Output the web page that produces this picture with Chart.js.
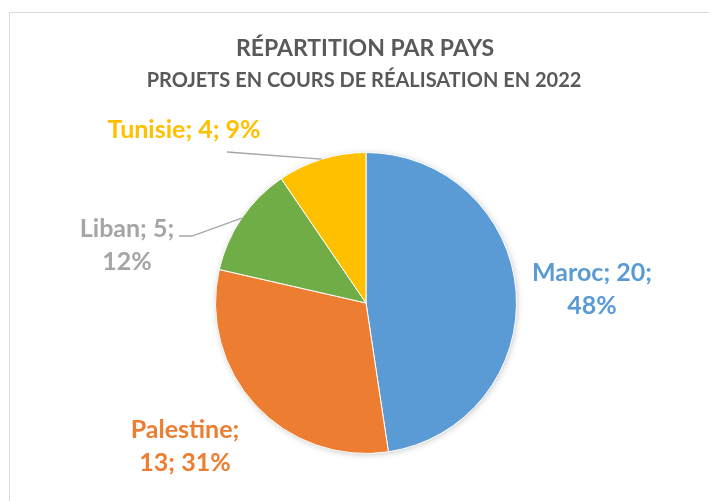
<!DOCTYPE html>
<html>
<head>
<meta charset="utf-8">
<script src="https://cdn.jsdelivr.net/npm/chart.js@4"></script>
<style>
  body { margin: 0; background: #fff; overflow: hidden; }
  #frame { position: absolute; left: 9px; top: 12px; width: 800px; height: 600px; border: 1px solid #d9d9d9; }
  #pieChart { position: absolute; left: 0; top: 0; }
</style>
</head>
<body>
<div id="frame"></div>
<canvas id="pieChart" width="709" height="501"></canvas>
<script>
const countries = ["Maroc", "Palestine", "Liban", "Tunisie"];
const projects = [20, 13, 5, 4];
const percents = ["48%", "31%", "12%", "9%"];
const sliceColors = ["#5B9BD5", "#ED7D31", "#70AD47", "#FFC000"];
const labelColors = ["#5B9BD5", "#ED7D31", "#A5A5A5", "#FFC000"];

const title = "RÉPARTITION PAR PAYS";
const subtitle = "PROJETS EN COURS DE RÉALISATION EN 2022";

// where each data label sits (centre x, first line y)
const labelLayout = [
  { x: 592, y: 273 },
  { x: 185, y: 430 },
  { x: 127, y: 229 },
  { x: 184, y: 130 }
];
// leader lines: from text end to the middle of the slice edge
const leaders = {
  2: [[179, 236], [192, 236]],
  3: [[227, 152], [240, 153]]
};

const font = "Lato, 'Open Sans', sans-serif";

function labelText(i) {
  if (i === 1) return [countries[i] + ";", projects[i] + "; " + percents[i]];
  if (i === 3) return [countries[i] + "; " + projects[i] + "; " + percents[i]];
  return [countries[i] + "; " + projects[i] + ";", percents[i]];
}

const piePlugin = {
  id: "piePlugin",
  beforeDatasetsDraw(chart) {
    const arc = chart.getDatasetMeta(0).data[0];
    const ctx = chart.ctx;
    ctx.save();
    ctx.shadowColor = "rgba(0,0,0,0.28)";
    ctx.shadowBlur = 7;
    ctx.shadowOffsetX = 1;
    ctx.shadowOffsetY = 1;
    ctx.fillStyle = "#fff";
    ctx.beginPath();
    ctx.arc(arc.x, arc.y, arc.outerRadius - 1, 0, Math.PI * 2);
    ctx.fill();
    ctx.restore();
  },
  afterDraw(chart) {
    const ctx = chart.ctx;
    const meta = chart.getDatasetMeta(0);
    ctx.save();
    ctx.textAlign = "center";
    ctx.textBaseline = "middle";
    ctx.fillStyle = "#595959";
    ctx.font = "bold 23px " + font;
    ctx.fillText(title, 365, 49);
    ctx.font = "bold 20px " + font;
    ctx.fillText(subtitle, 364, 81);

    // leader lines
    ctx.strokeStyle = "#A6A6A6";
    ctx.lineWidth = 1.3;
    Object.keys(leaders).forEach(k => {
      const a = meta.data[k];
      const pts = leaders[k];
      const ang = (a.startAngle + a.endAngle) / 2;
      ctx.beginPath();
      ctx.moveTo(pts[0][0], pts[0][1]);
      ctx.lineTo(pts[1][0], pts[1][1]);
      ctx.lineTo(a.x + Math.cos(ang) * a.outerRadius, a.y + Math.sin(ang) * a.outerRadius);
      ctx.stroke();
    });

    ctx.font = "bold 25px " + font;
    labelLayout.forEach((p, i) => {
      ctx.fillStyle = labelColors[i];
      labelText(i).forEach((line, j) => {
        ctx.fillText(line, p.x, p.y + j * 33);
      });
    });
    ctx.restore();
  }
};

new Chart(document.getElementById("pieChart"), {
  type: "pie",
  data: {
    labels: countries,
    datasets: [{
      data: projects,
      backgroundColor: sliceColors,
      borderColor: "#ffffff",
      borderWidth: 1
    }]
  },
  options: {
    responsive: false,
    animation: false,
    layout: { padding: { left: 215, right: 192, top: 152, bottom: 47 } },
    plugins: { legend: { display: false }, tooltip: { enabled: false } }
  },
  plugins: [piePlugin]
});
</script>
</body>
</html>
